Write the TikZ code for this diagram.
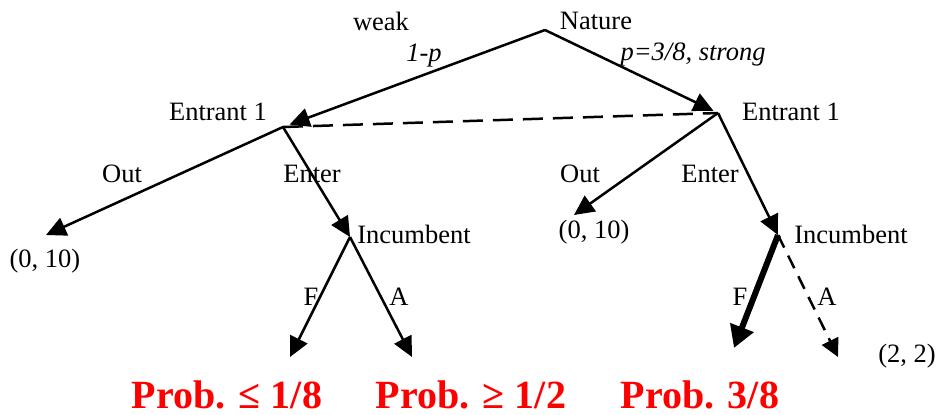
\documentclass[tikz,border=0pt]{standalone}
\usepackage{fontspec}
\setmainfont{Liberation Serif}
\usetikzlibrary{arrows.meta}
\begin{document}
\begin{tikzpicture}[x=1pt,y=-1pt,
  lbl/.style={inner sep=0pt,font=\fontsize{26.5}{28}\selectfont},
  ilbl/.style={inner sep=0pt,font=\fontsize{26.5}{28}\selectfont\itshape},
  prob/.style={inner sep=0pt,text=red,font=\fontsize{40}{43}\selectfont\bfseries},
  move/.style={line width=2.5pt,-{Triangle[length=20pt,width=19pt]}},
  strongmove/.style={line width=6pt,-{Triangle[length=22pt,width=24pt]}},
  dashmove/.style={line width=2.5pt,dash pattern=on 14pt off 9pt,-{Triangle[length=18pt,width=18pt]}},
  infoset/.style={line width=2.5pt,dash pattern=on 20pt off 10pt}]
\useasboundingbox (0,0) rectangle (938,415);

% decision points and end points
\coordinate (nat) at (545,30);
\coordinate (e1L) at (283,127);
\coordinate (e1R) at (718,113);
\coordinate (outL) at (46,235);
\coordinate (incL) at (350,237);
\coordinate (fL) at (290,357);
\coordinate (aL) at (412,357);
\coordinate (outR) at (574,215);
\coordinate (incR) at (778,235);
\coordinate (fR) at (734,348);
\coordinate (aR) at (838,357);

% moves
\draw[move,shorten >=7pt] (nat) -- (e1L);
\draw[move,shorten >=5pt] (nat) -- (e1R);
\draw[infoset] (e1L) -- (e1R);
\draw[move] (e1L) -- (outL);
\draw[move] (e1L) -- (incL);
\draw[move] (incL) -- (fL);
\draw[move] (incL) -- (aL);
\draw[move] (e1R) -- (outR);
\draw[move] (e1R) -- (incR);
\draw[strongmove] (incR) -- (fR);
\draw[dashmove] (incR) -- (aR);

% labels
\node[lbl] (tw) at (381,21) {weak};
\node[lbl] (tn) at (596,21) {Nature};
\node[ilbl] (tp1) at (424,56) {1-p};
\node[ilbl] (tp2) at (693,55) {p=3/8, strong};
\node[lbl] (tel) at (218,112) {Entrant 1};
\node[lbl] (ter) at (791,112) {Entrant 1};
\node[lbl] (tol) at (122,174) {Out};
\node[lbl] (tnl) at (312,174) {Enter};
\node[lbl] (tor) at (580,174) {Out};
\node[lbl] (tnr) at (710,174) {Enter};
\node[lbl] (til) at (414,234) {Incumbent};
\node[lbl] (tir) at (851,234) {Incumbent};
\node[lbl] (tpl) at (45,261) {(0, 10)};
\node[lbl] (tpr) at (594,232) {(0, 10)};
\node[lbl] (tfl) at (311,297) {F};
\node[lbl] (tal) at (399,297) {A};
\node[lbl] (tfr) at (740,297) {F};
\node[lbl] (tar) at (827,297) {A};
\node[lbl] (t22) at (907,356) {(2, 2)};
\node[prob] (p1) at (227,395) {Prob. ≤ 1/8};
\node[prob] (p2) at (471,395) {Prob. ≥ 1/2};
\node[prob] (p3) at (700,395) {Prob. 3/8};
\end{tikzpicture}
\end{document}
